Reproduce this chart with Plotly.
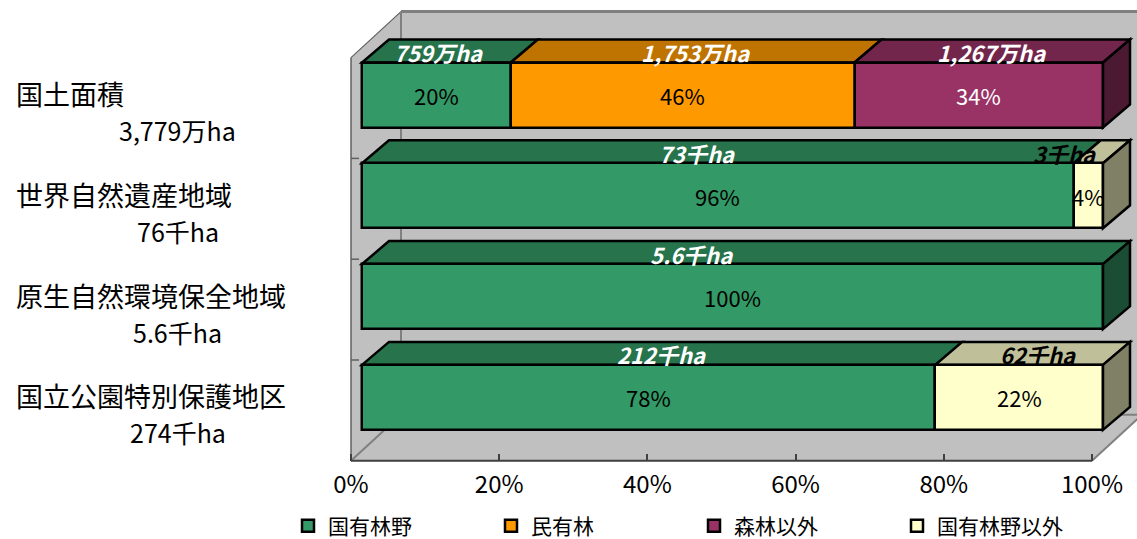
import plotly.graph_objects as go

# ---------------- data ----------------
categories = ["国土面積", "世界自然遺産地域", "原生自然環境保全地域", "国立公園特別保護地区"]
totals = ["3,779万ha", "76千ha", "5.6千ha", "274千ha"]
units = ["万ha", "千ha", "千ha", "千ha"]

series_names = ["国有林野", "民有林", "森林以外", "国有林野以外"]
kokuyurin = [759, 73, 5.6, 212]
minyurin = [1753, 0, 0, 0]
shinrin_igai = [1267, 0, 0, 0]
kokuyurin_igai = [0, 3, 0, 62]

pct_kokuyurin = [20, 96, 100, 78]
pct_minyurin = [46, None, None, None]
pct_shinrin_igai = [34, None, None, None]
pct_kokuyurin_igai = [None, 4, None, 22]

tick_vals = [0, 20, 40, 60, 80, 100]
tick_text = ["0%", "20%", "40%", "60%", "80%", "100%"]

# ---------------- styles ----------------
front_colors = ["#339966", "#FF9900", "#993366", "#FFFFCC"]
top_colors = ["#26734C", "#BF7300", "#73264C", "#BFBF99"]
side_colors = ["#1A4D33", "#804C00", "#4C1933", "#808066"]
pct_text_colors = ["black", "black", "white", "black"]
top_text_colors = ["white", "white", "white", "black"]
# manual label centre overrides (percent) for top-face labels, keyed (series, category)
top_label_override = {(0, 0): 8.6, (0, 1): 43.4, (0, 2): 42.7, (3, 1): 93.0, (3, 3): 89.5}

FONT = "Noto Sans CJK JP, Noto Sans, sans-serif"
W, H = 1137, 539
X0_PX, PX_PER_PCT = 362.0, 7.41
Y0_PX, PX_PER_CAT = 95.0, 100.8
BAR_H = 65.0 / PX_PER_CAT
BAR_DX, BAR_DY = 27.0 / PX_PER_PCT, -23.0 / PX_PER_CAT
WALL_OFF_X, WALL_OFF_Y = -11.0 / PX_PER_PCT, 13.0 / PX_PER_CAT
WALL_DX, WALL_DY = 50.0 / PX_PER_PCT, -46.0 / PX_PER_CAT

series_vals = [kokuyurin, minyurin, shinrin_igai, kokuyurin_igai]
series_pct = [pct_kokuyurin, pct_minyurin, pct_shinrin_igai, pct_kokuyurin_igai]
ncat = len(categories)
ypos = list(range(ncat))

# shares (percent of each category total)
cat_tot = [sum(s[i] for s in series_vals) for i in range(ncat)]
shares = [[100.0 * s[i] / cat_tot[i] for i in range(ncat)] for s in series_vals]
bases = []
for j in range(len(series_vals)):
    bases.append([sum(shares[q][i] for q in range(j)) for i in range(ncat)])


def fmt(v):
    if float(v).is_integer():
        return f"{int(v):,}"
    return f"{v}"


def path(pts):
    return "M " + " L ".join(f"{x},{y}" for x, y in pts) + " Z"


fig = go.Figure()
shapes = []
GRAY = "#C0C0C0"
EDGE = "#808080"

# ---- walls & floor ----
fx0, fx1 = 0 + WALL_OFF_X, 100 + WALL_OFF_X
fy0, fy1 = -0.5 + WALL_OFF_Y, (ncat - 0.5) + WALL_OFF_Y
bx0, bx1 = fx0 + WALL_DX, fx1 + WALL_DX
by0, by1 = fy0 + WALL_DY, fy1 + WALL_DY
shapes.append(dict(type="path", path=path([(bx0, by0), (bx1, by0), (bx1, by1), (bx0, by1)]),
                   xref="x", yref="y", fillcolor=GRAY, line=dict(width=0), layer="below"))
shapes.append(dict(type="path", path=path([(fx0, fy0), (bx0, by0), (bx0, by1), (fx0, fy1)]),
                   xref="x", yref="y", fillcolor=GRAY, line=dict(width=0), layer="below"))
shapes.append(dict(type="path", path=path([(fx0, fy1), (fx1, fy1), (bx1, by1), (bx0, by1)]),
                   xref="x", yref="y", fillcolor=GRAY, line=dict(width=0), layer="below"))
edges = [
    ((bx0, by0), (bx1, by0), EDGE, 3),
    ((fx0, fy0), (bx0, by0), "#606060", 1.2),
    ((bx0, by0), (bx0, by1), EDGE, 2),
    ((fx0, fy0), (fx0, fy1), "#606060", 1.5),
    ((fx0, fy1), (bx0, by1), EDGE, 2),
    ((bx0, by1), (bx1, by1), EDGE, 2),
    ((fx1, fy1), (bx1, by1), EDGE, 2),
    ((fx0, fy1), (fx1, fy1), "#404040", 2),
]
for (xa, ya), (xb, yb), c, wdt in edges:
    shapes.append(dict(type="line", x0=xa, y0=ya, x1=xb, y1=yb, xref="x", yref="y",
                       line=dict(color=c, width=wdt), layer="below"))
for i in range(1, ncat):
    yb_ = i - 0.5 + WALL_OFF_Y
    shapes.append(dict(type="line", x0=fx0, y0=yb_, x1=fx0 + 8.0 / PX_PER_PCT, y1=yb_,
                       xref="x", yref="y", line=dict(color="#606060", width=1.5), layer="below"))

# ---- bar top & side faces ----
for i in range(ncat):
    yt = ypos[i] - BAR_H / 2
    yb = ypos[i] + BAR_H / 2
    last = None
    for j in range(len(series_vals)):
        if series_vals[j][i] == 0:
            continue
        a = bases[j][i]
        b = a + shares[j][i]
        shapes.append(dict(type="path",
                           path=path([(a, yt), (b, yt), (b + BAR_DX, yt + BAR_DY), (a + BAR_DX, yt + BAR_DY)]),
                           xref="x", yref="y", fillcolor=top_colors[j],
                           line=dict(color="black", width=2.5), layer="below"))
        last = (j, b)
    j, b = last
    shapes.append(dict(type="path",
                       path=path([(b, yt), (b + BAR_DX, yt + BAR_DY), (b + BAR_DX, yb + BAR_DY), (b, yb)]),
                       xref="x", yref="y", fillcolor=side_colors[j],
                       line=dict(color="black", width=2.5), layer="below"))

# ---- front faces (bars) ----
for j, name in enumerate(series_names):
    xs = [shares[j][i] if series_vals[j][i] else None for i in range(ncat)]
    bs = [bases[j][i] if series_vals[j][i] else None for i in range(ncat)]
    fig.add_trace(go.Bar(
        name=name, orientation="h", y=ypos, x=xs, base=bs, width=BAR_H,
        marker=dict(color=front_colors[j], line=dict(color="black", width=2.5)),
        hoverinfo="skip",
    ))

fig.add_trace(go.Scatter(x=[None], y=[None], xaxis="x2", yaxis="y", showlegend=False,
                         hoverinfo="skip", mode="markers"))

annotations = []
for j in range(len(series_vals)):
    for i in range(ncat):
        if series_vals[j][i] == 0:
            continue
        a = bases[j][i]
        c = a + shares[j][i] / 2
        p = series_pct[j][i]
        if p is not None:
            annotations.append(dict(x=c, y=ypos[i], xref="x", yref="y", text=f"{p}%",
                                    showarrow=False, font=dict(family=FONT, size=22, color=pct_text_colors[j])))
        lx = top_label_override.get((j, i), c) + BAR_DX / 2
        ly = ypos[i] - BAR_H / 2 + BAR_DY / 2
        annotations.append(dict(x=lx, y=ly, xref="x", yref="y",
                                text=f"{fmt(series_vals[j][i])}{units[i]}",
                                showarrow=False, yshift=-1,
                                font=dict(family=FONT, size=22, color=top_text_colors[j],
                                          style="italic", weight="bold")))

for i in range(ncat):
    annotations.append(dict(x=14 / W, y=ypos[i], xref="paper", yref="y", xanchor="left",
                            yshift=1.5, text=categories[i], showarrow=False,
                            font=dict(family=FONT, size=27, color="black")))
    annotations.append(dict(x=178 / W, y=ypos[i], xref="paper", yref="y", xanchor="center",
                            yshift=-35, text=totals[i], showarrow=False,
                            font=dict(family=FONT, size=25, color="black")))

xr0 = -X0_PX / PX_PER_PCT
xr1 = xr0 + W / PX_PER_PCT
floor_shift = -WALL_OFF_X
yr_top = -Y0_PX / PX_PER_CAT
yr_bot = yr_top + H / PX_PER_CAT
floor_px = Y0_PX + ((ncat - 0.5) + WALL_OFF_Y) * PX_PER_CAT

fig.update_layout(
    width=W, height=H, autosize=False,
    margin=dict(l=0, r=0, t=0, b=0, pad=0, autoexpand=False),
    paper_bgcolor="white", plot_bgcolor="rgba(0,0,0,0)",
    barmode="overlay", bargap=0,
    shapes=shapes, annotations=annotations,
    font=dict(family=FONT),
    xaxis=dict(domain=[0, 1], range=[xr0, xr1], visible=False, fixedrange=True),
    xaxis2=dict(overlaying="x", anchor="free", position=1 - floor_px / H, side="bottom",
                range=[xr0 + floor_shift, xr1 + floor_shift], tickvals=tick_vals, ticktext=tick_text,
                ticks="inside", ticklen=7, tickcolor="#404040", tickwidth=1.5,
                ticklabelstandoff=7, automargin=False,
                showline=False, showgrid=False, zeroline=False,
                tickfont=dict(family=FONT, size=24, color="black")),
    yaxis=dict(domain=[0, 1], range=[yr_bot, yr_top], visible=False, fixedrange=True),
    showlegend=True,
    legend=dict(orientation="h", x=288 / W, xanchor="left", y=1 - 526 / H, yanchor="middle",
                font=dict(family=FONT, size=21, color="black"), entrywidth=158,
                entrywidthmode="pixels", bgcolor="rgba(0,0,0,0)", traceorder="normal"),
)

fig.write_html("out.html")
